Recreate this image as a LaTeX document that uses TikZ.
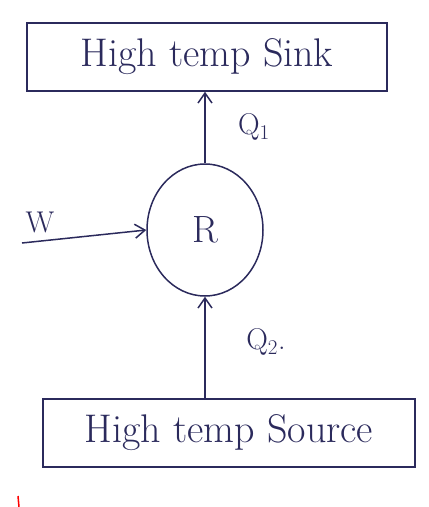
\documentclass[tikz,border=0pt]{standalone}
\usetikzlibrary{arrows.meta,shapes.geometric}
\definecolor{ink}{HTML}{2B2A5C}
\begin{document}
\begin{tikzpicture}[x=1pt,y=-1pt,
  ink line/.style={draw=ink,line width=1.5pt},
  reservoir/.style={ink line,rectangle,minimum width=360pt,minimum height=68pt,inner sep=0pt,font=\fontsize{40}{42}\selectfont,text=ink},
  engine/.style={ink line,ellipse,minimum width=116pt,minimum height=132pt,inner sep=0pt,font=\fontsize{38}{40}\selectfont,text=ink},
  flow/.style={ink line,-{Straight Barb[length=10pt,width=14pt]}},
  lab/.style={text=ink,font=\fontsize{30}{32}\selectfont}]
\useasboundingbox (0,0) rectangle (429,507);
\node[reservoir] (sink) at (207,57) {High temp Sink};
\node[reservoir,minimum width=372pt] (source) at (229,433) {High temp Source};
\node[engine] (R) at (205,230) {R};
\coordinate (win) at (22,243);
\draw[flow] (R.north) -- (R.north |- sink.south);
\draw[flow] (win) -- (R.west);
\draw[flow] (R.south |- source.north) -- (R.south);
\node[lab] (q1) at (254,127) {Q\textsubscript{1}};
\node[lab] (q2) at (266,342) {Q\textsubscript{2}.};
\node[lab] (w) at (40,222) {W};
\draw[red,line width=1.5pt] (18,496) -- (19,507);
\end{tikzpicture}
\end{document}
